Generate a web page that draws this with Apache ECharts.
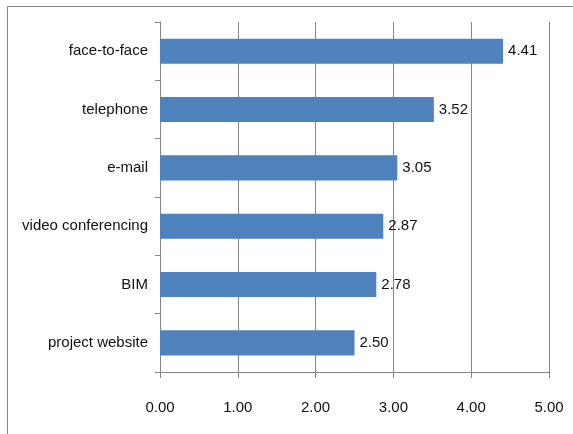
<!DOCTYPE html>
<html>
<head>
<meta charset="utf-8">
<script src="https://cdn.jsdelivr.net/npm/echarts@6/dist/echarts.min.js"></script>
<style>
  html, body { margin: 0; padding: 0; background: #fff; }
  #chart { width: 573px; height: 434px; }
</style>
</head>
<body>
<div id="chart"></div>
<script>
// Communication channels, bottom to top as drawn on the category axis
const categories = ['project website', 'BIM', 'video conferencing', 'e-mail', 'telephone', 'face-to-face'];
const meanScores = [2.50, 2.78, 2.87, 3.05, 3.52, 4.41];
const axisMin = 0;
const axisMax = 5;
const axisStep = 1;

const FONT = '"Liberation Sans", Arial, sans-serif';
const GREY = '#868686';

const chart = echarts.init(document.getElementById('chart'), null, { renderer: 'canvas' });
chart.setOption({
  animation: false,
  backgroundColor: '#ffffff',
  graphic: [{
    type: 'rect',
    shape: { x: 7.5, y: 6.5, width: 600, height: 500 },
    style: { fill: 'none', stroke: GREY, lineWidth: 1 },
    silent: true
  }],
  grid: { left: 160, right: 24, top: 22, bottom: 62, containLabel: false },
  xAxis: {
    type: 'value',
    min: axisMin,
    max: axisMax,
    interval: axisStep,
    axisLine: { show: true, lineStyle: { color: GREY, width: 1 } },
    axisTick: { show: true, length: 6, lineStyle: { color: GREY } },
    splitLine: { show: true, lineStyle: { color: GREY, width: 1 } },
    axisLabel: {
      margin: 28,
      color: '#111',
      fontFamily: FONT,
      fontSize: 15,
      formatter: v => v.toFixed(2)
    }
  },
  yAxis: {
    type: 'category',
    data: categories,
    boundaryGap: true,
    axisLine: { show: true, lineStyle: { color: GREY, width: 1 } },
    axisTick: { show: true, length: 5, inside: false, lineStyle: { color: GREY } },
    splitLine: { show: false },
    axisLabel: {
      margin: 12,
      color: '#111',
      fontFamily: FONT,
      fontSize: 15,
      padding: [3, 0, 0, 0]
    }
  },
  series: [{
    type: 'bar',
    data: meanScores,
    barCategoryGap: '57%',
    itemStyle: { color: '#4F81BD' },
    label: {
      show: true,
      position: 'right',
      distance: 5,
      color: '#111',
      fontFamily: FONT,
      fontSize: 15,
      formatter: p => p.value.toFixed(2)
    }
  }]
});
</script>
</body>
</html>
